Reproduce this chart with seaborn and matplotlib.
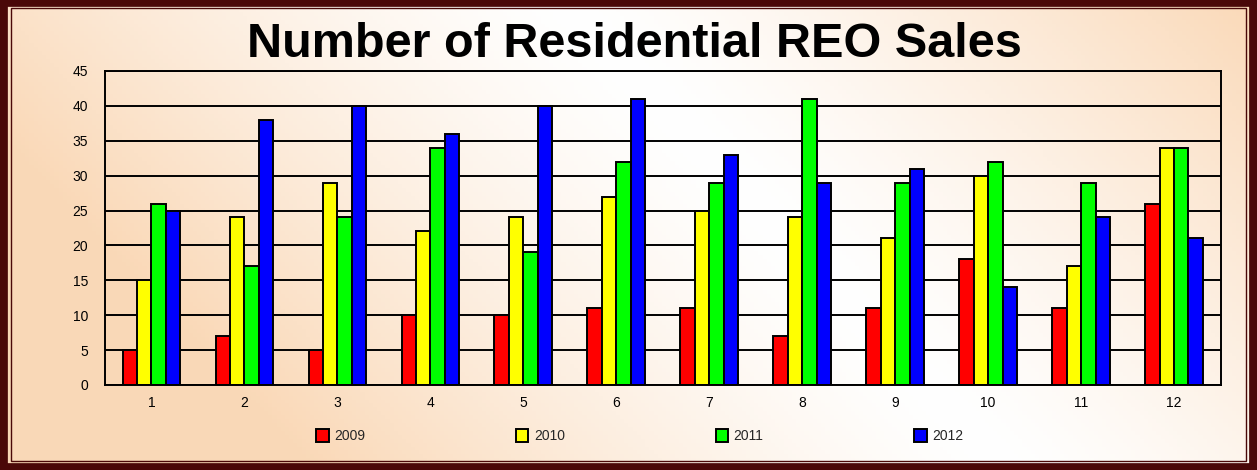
import numpy as np
import pandas as pd
import matplotlib
matplotlib.use("Agg")
import matplotlib.pyplot as plt
import seaborn as sns
from matplotlib.patches import Rectangle

months = [str(i) for i in range(1, 13)]
years = ["2009", "2010", "2011", "2012"]
sales_2009 = [5, 7, 5, 10, 10, 11, 11, 7, 11, 18, 11, 26]
sales_2010 = [15, 24, 29, 22, 24, 27, 25, 24, 21, 30, 17, 34]
sales_2011 = [26, 17, 24, 34, 19, 32, 29, 41, 29, 32, 29, 34]
sales_2012 = [25, 38, 40, 36, 40, 41, 33, 29, 31, 14, 24, 21]
colors = ["#ff0000", "#ffff00", "#00ff00", "#0000ff"]

rows = []
for y, vals in zip(years, [sales_2009, sales_2010, sales_2011, sales_2012]):
    for m, v in zip(months, vals):
        rows.append({"month": m, "year": y, "sales": v})
df = pd.DataFrame(rows)

sns.set_theme(style="white")
plt.rcParams['font.family'] = ['Liberation Sans', 'DejaVu Sans']

fig = plt.figure(figsize=(12.57, 4.70), dpi=100)

# background gradient
bg = fig.add_axes([0, 0, 1, 1], zorder=-10)
xx, yy = np.meshgrid(np.linspace(0, 1, 300), np.linspace(0, 1, 120))
d = np.abs((xx * 1.0 - (1 - yy) * 0.35) - 0.45)
t = np.clip(d / 0.55, 0, 1) ** 1.3
c0 = np.array([1.0, 1.0, 1.0])
c1 = np.array([0.98, 0.85, 0.72])
img = c0[None, None, :] * (1 - t[..., None]) + c1[None, None, :] * t[..., None]
bg.imshow(img, extent=[0, 1, 0, 1], aspect="auto", origin="lower")
bg.set_axis_off()

# border
fig.patches.append(Rectangle((0.002, 0.004), 0.996, 0.992, transform=fig.transFigure,
                             fill=False, edgecolor="#4a0808", linewidth=7, zorder=5))
fig.patches.append(Rectangle((0.0085, 0.02), 0.983, 0.962, transform=fig.transFigure,
                             fill=False, edgecolor="#4a0808", linewidth=1.0, zorder=5))

ax = fig.add_axes([0.0835, 0.181, 0.8875, 0.668])
ax.set_facecolor("none")
sns.barplot(data=df, x="month", y="sales", hue="year", palette=colors,
            width=0.62, edgecolor="black", linewidth=1.4, ax=ax, legend=True,
            gap=0, saturation=1)
ax.set_ylim(0, 45)
ax.set_yticks(range(0, 46, 5))
ax.yaxis.grid(True, color="black", linewidth=1.4)
ax.set_axisbelow(True)
for s in ax.spines.values():
    s.set_color("black")
    s.set_linewidth(1.4)
ax.set_xlabel("")
ax.set_ylabel("")
ax.tick_params(axis="both", labelsize=10, colors="black", length=0, pad=12)
ax.tick_params(axis="x", pad=8)

handles, labels = ax.get_legend_handles_labels()
ax.legend(handles, labels, loc="upper left", bbox_to_anchor=(0.178, -0.1), ncol=4,
          frameon=False, fontsize=10, columnspacing=10.85, handlelength=0.9,
          handleheight=1.1, handletextpad=0.4)

fig.text(0.505, 0.905, "Number of Residential REO Sales", ha="center", va="center",
         fontsize=35, fontweight="bold", color="black")

fig.savefig("out.png", dpi=100)
